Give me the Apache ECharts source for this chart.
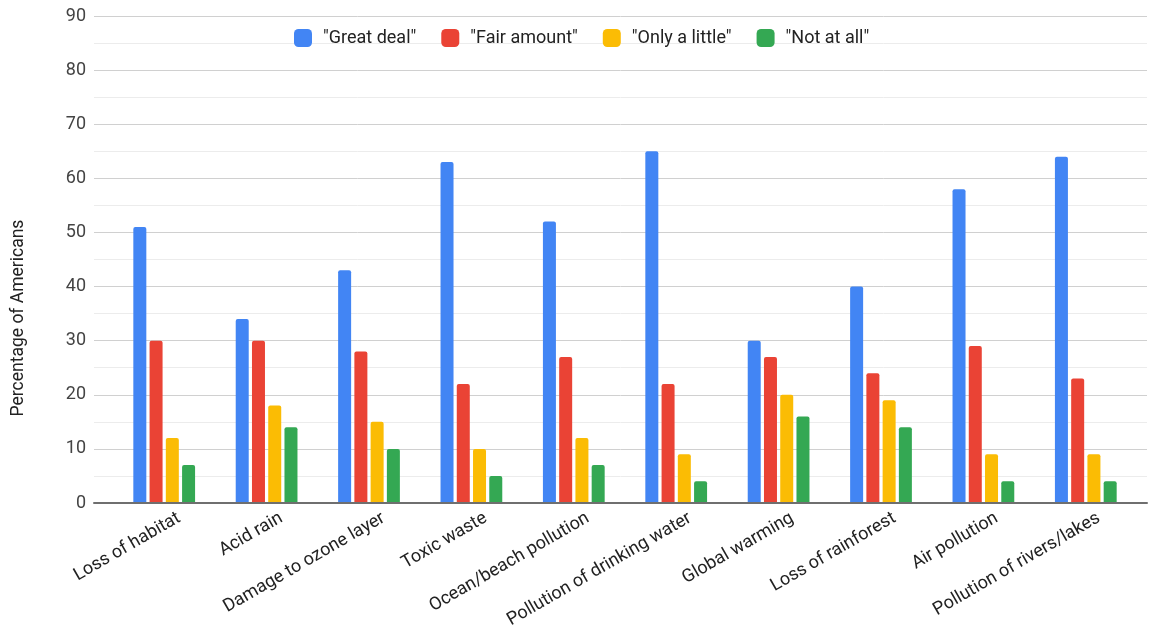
<!DOCTYPE html>
<html>
<head>
<meta charset="utf-8">
<script src="https://cdn.jsdelivr.net/npm/echarts@6/dist/echarts.min.js"></script>
<style>
html,body{margin:0;padding:0;background:#fff;}
#chart{width:1150px;height:631px;}
</style>
</head>
<body>
<div id="chart"></div>
<script>
var categories = ["Loss of habitat","Acid rain","Damage to ozone layer","Toxic waste","Ocean/beach pollution","Pollution of drinking water","Global warming","Loss of rainforest","Air pollution","Pollution of rivers/lakes"];
var seriesNames = ["\"Great deal\"","\"Fair amount\"","\"Only a little\"","\"Not at all\""];
var greatDeal   = [51,34,43,63,52,65,30,40,58,64];
var fairAmount  = [30,30,28,22,27,22,27,24,29,23];
var onlyALittle = [12,18,15,10,12, 9,20,19, 9, 9];
var notAtAll    = [ 7,14,10, 5, 7, 4,16,14, 4, 4];
var seriesColors = ["#4285F4","#EA4335","#FBBC04","#34A853"];
var yTitle = "Percentage of Americans";

var FONT = "Roboto";
var values = [greatDeal, fairAmount, onlyALittle, notAtAll];
var gridTop = 16, gridBottom = 128;

var chart = echarts.init(document.getElementById('chart'), null, {renderer:'canvas'});
var option = {
  animation: false,
  color: seriesColors,
  textStyle: {fontFamily: FONT},
  legend: {
    left: 294, top: 29, padding: 0,
    itemWidth: 18, itemHeight: 18, itemGap: 25,
    icon: 'roundRect',
    textStyle: {fontFamily: FONT, fontSize: 18, color: '#222', padding: [0,0,0,6]},
    data: seriesNames
  },
  graphic: [{
    type: 'text',
    x: 18.5, y: 318,
    rotation: Math.PI/2,
    style: {text: yTitle, fontFamily: FONT, fontSize: 17.5, fill: '#222', align: 'center', verticalAlign: 'middle'}
  }],
  grid: [
    {left: 94, right: 3, top: gridTop, bottom: gridBottom},
    {left: 113, width: 1024, top: gridTop, bottom: gridBottom},
    {left: 128, width: 1024, top: gridTop, bottom: gridBottom}
  ],
  xAxis: [
    {gridIndex: 0, type: 'category', data: categories, axisLabel: {show: false}, axisTick: {show: false},
     axisLine: {show: true, lineStyle: {color: '#6f6f6f', width: 2}}, z: 5},
    {gridIndex: 1, type: 'category', data: categories, axisLabel: {show: false}, axisTick: {show: false}, axisLine: {show: false}},
    {gridIndex: 2, type: 'category', data: categories, axisTick: {show: false}, axisLine: {show: false},
     axisLabel: {show: true, rotate: 30, margin: 20, interval: 0, fontFamily: FONT, fontSize: 18, color: '#222'}}
  ],
  yAxis: [
    {gridIndex: 0, type: 'value', min: 0, max: 90, interval: 10,
     axisLine: {show: false}, axisTick: {show: false},
     axisLabel: {margin: 8, fontFamily: FONT, fontSize: 18, color: '#444'},
     splitLine: {show: true, lineStyle: {color: '#d0d0d0', width: 1}},
     minorTick: {show: false, splitNumber: 2},
     minorSplitLine: {show: true, lineStyle: {color: '#ececec', width: 1}}},
    {gridIndex: 1, type: 'value', min: 0, max: 90, interval: 10, show: false, splitLine: {show: false}},
    {gridIndex: 2, type: 'value', min: 0, max: 90, interval: 10, show: false, splitLine: {show: false}}
  ],
  series: seriesNames.map(function(name, i){
    return {
      name: name, type: 'bar', xAxisIndex: 1, yAxisIndex: 1,
      data: values[i], barWidth: 13, barGap: '25%',
      itemStyle: {color: seriesColors[i], borderRadius: [2,2,0,0]},
      z: 3
    };
  })
};
chart.setOption(option);
</script>
</body>
</html>
